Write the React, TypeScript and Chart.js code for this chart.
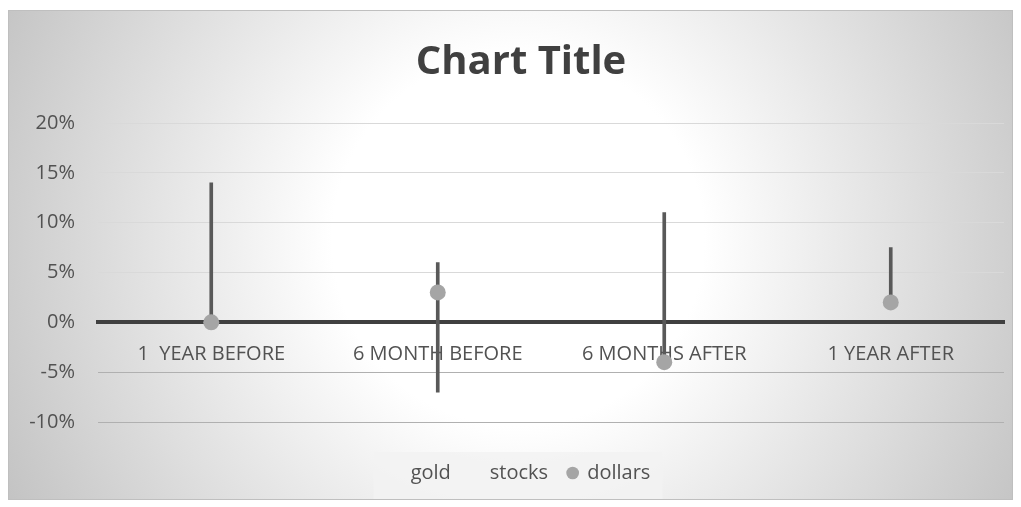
import React, { useEffect, useRef } from "react";
import { Chart, registerables } from "chart.js";
Chart.register(...registerables);

const categories = ["1  YEAR BEFORE", "6 MONTH BEFORE", "6 MONTHS AFTER", "1 YEAR AFTER"];
const gold = [14, 6, 11, 7.5];
const stocks = [0, -7, -4, 2];
const dollars = [0, 3, -4, 2];
const yMin = -10;
const yMax = 20;
const yStep = 5;

const FONT = "'Open Sans', 'Noto Sans', sans-serif";
const TEXT = "#525252";

const decorPlugin = {
  id: "decor",
  afterLayout(chart: any) {
    // let the y tick labels extend past the outer padding without clipping
    if (chart.scales.y) chart.scales.y.left = 0;
  },
  beforeDraw(chart: any) {
    const { ctx, width, height } = chart;
    ctx.save();
    const g = ctx.createRadialGradient(510, 230, 0, 510, 230, 620);
    g.addColorStop(0, "#ffffff");
    g.addColorStop(0.3, "#ffffff");
    g.addColorStop(1, "#bcbcbc");
    ctx.fillStyle = g;
    ctx.fillRect(0, 0, width, height);
    const lg = chart.legend;
    if (lg && lg.legendHitBoxes && lg.legendHitBoxes.length) {
      const hb = lg.legendHitBoxes;
      const l = Math.min(...hb.map((h: any) => h.left)) - 18;
      const r = Math.max(...hb.map((h: any) => h.left + h.width)) + 12;
      ctx.fillStyle = "rgba(242,242,242,0.85)";
      ctx.fillRect(l, lg.top + 30, r - l, height - (lg.top + 30));
    }
    ctx.restore();
  },
  afterDraw(chart: any) {
    const { ctx, width, height } = chart;
    ctx.save();
    ctx.strokeStyle = "#bfbfbf";
    ctx.lineWidth = 1;
    ctx.strokeRect(0.5, 0.5, width - 1, height - 1);
    ctx.restore();
  },
};

export default function App() {
  const ref = useRef<HTMLCanvasElement>(null);
  useEffect(() => {
    if (!ref.current) return;
    const hilo = gold.map((g, i) => [Math.min(g, stocks[i]), Math.max(g, stocks[i])]);
    const chart = new Chart(ref.current, {
      type: "line",
      data: {
        labels: categories,
        datasets: [
          { type: "line", label: "gold", data: gold, showLine: false, pointRadius: 0, order: 1 },
          { type: "line", label: "stocks", data: stocks, showLine: false, pointRadius: 0, order: 2 },
          {
            type: "line",
            label: "dollars",
            data: dollars,
            showLine: false,
            pointRadius: 8,
            pointBackgroundColor: "#a5a5a5",
            pointBorderWidth: 0,
            borderColor: "#a5a5a5",
            backgroundColor: "#a5a5a5",
            order: 0,
          },
          {
            type: "bar",
            label: "hilo",
            data: hilo as any,
            backgroundColor: "#595959",
            borderWidth: 0,
            barThickness: 3,
            order: 3,
          },
        ],
      },
      options: {
        responsive: false,
        animation: false,
        layout: { padding: { left: 30, right: 9, top: 0, bottom: 7 } },
        scales: {
          x: {
            type: "category",
            position: { y: 0 } as any,
            offset: true,
            grid: { display: false, drawTicks: false },
            border: { display: true, color: "#404040", width: 4 },
            ticks: { color: TEXT, font: { family: FONT, size: 20 }, padding: 20, maxRotation: 0, autoSkip: false },
          },
          y: {
            min: yMin,
            max: yMax,
            grid: {
              drawTicks: false,
              color: (c: any) => (c.tick && c.tick.value === 0 ? "rgba(0,0,0,0)" : c.tick && c.tick.value < 0 ? "#b0b0b0" : "#d9d9d9"),
              lineWidth: 1,
            },
            border: { display: false },
            ticks: {
              stepSize: yStep,
              color: TEXT,
              font: { family: FONT, size: 20 },
              padding: 23,
              callback: (v: any) => v + "%",
            },
            afterFit: (s: any) => {
              s.width = 60;
            },
          },
        },
        plugins: {
          tooltip: { enabled: false },
          title: {
            display: true,
            text: "Chart Title",
            color: "#404040",
            font: { family: FONT, size: 40, weight: "bold" },
            padding: { top: 29, bottom: 36 },
          },
          legend: {
            display: true,
            position: "bottom",
            title: { display: true, text: "", font: { size: 10 }, padding: { top: 9, bottom: 0 } },
            labels: {
              color: TEXT,
              font: { family: FONT, size: 20 },
              usePointStyle: true,
              boxWidth: 9,
              boxHeight: 9,
              padding: 20,
              sort: (a: any, b: any) => a.datasetIndex - b.datasetIndex,
              generateLabels: (ch: any) => {
                const items = Chart.defaults.plugins.legend.labels.generateLabels(ch);
                return items
                  .filter((it: any) => it.datasetIndex !== 3)
                  .map((it: any) =>
                    it.datasetIndex === 2
                      ? { ...it, fillStyle: "#a5a5a5", strokeStyle: "#a5a5a5", lineWidth: 0, pointStyle: "circle", fontColor: TEXT }
                      : { ...it, fillStyle: "rgba(0,0,0,0)", strokeStyle: "rgba(0,0,0,0)", lineWidth: 0, pointStyle: "circle", fontColor: TEXT }
                  );
              },
            },
          },
        },
      },
      plugins: [decorPlugin],
    } as any);
    return () => chart.destroy();
  }, []);
  return (
    <div style={{ marginTop: 2 }}>
      <canvas ref={ref} width={1005} height={490} style={{ display: "block" }} />
    </div>
  );
}
